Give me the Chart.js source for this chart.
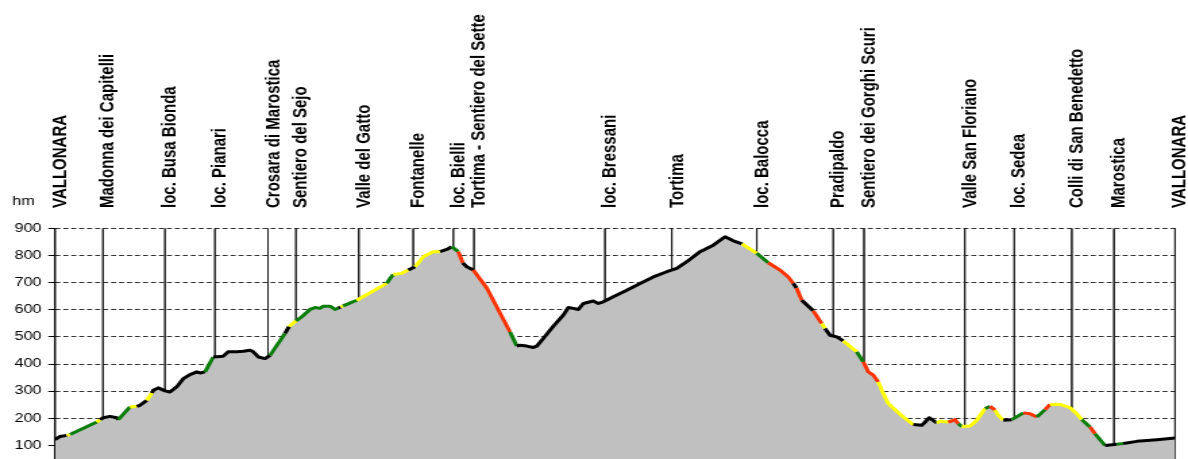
<!DOCTYPE html>
<html>
<head>
<meta charset="utf-8">
<script src="https://cdn.jsdelivr.net/npm/chart.js@4/dist/chart.umd.min.js"></script>
<style>
  html, body { margin: 0; padding: 0; background: #fff; }
</style>
</head>
<body>
<canvas id="chart" width="880" height="459" style="display:block;width:1188px;height:459px"></canvas>
<script>
// distance along the route (km) and elevation (m)
const dist = [0, 0.2, 0.47, 0.6, 1.67, 1.8, 1.93, 2.2, 2.47, 2.53,
  3.0, 3.27, 3.4, 3.67, 3.87, 3.93, 4.13, 4.4, 4.6, 4.87,
  5.13, 5.4, 5.67, 5.8, 6.0, 6.33, 6.73, 6.93, 7.27, 7.53,
  7.8, 7.93, 8.13, 8.4, 8.6, 9.2, 9.36, 9.64, 9.87, 10.2,
  10.4, 10.6, 10.73, 11.0, 11.2, 11.33, 11.42, 11.52, 12.07, 13.27,
  13.4, 13.53, 13.87, 14.13, 14.4, 14.73, 15.13, 15.4, 15.67, 15.87,
  16.13, 16.31, 16.47, 16.73, 17.27, 18.2, 18.47, 18.6, 18.87, 19.13,
  19.27, 19.53, 19.93, 20.33, 20.53, 20.73, 20.93, 21.13, 21.53, 21.73,
  21.93, 22.33, 22.87, 23.4, 23.93, 24.47, 24.87, 25.27, 25.8, 26.33,
  26.8, 27.13, 27.48, 28.07, 28.53, 29.0, 29.33, 29.53, 29.66, 29.87,
  30.33, 30.67, 30.8, 31.0, 31.27, 31.53, 32.07, 32.33, 32.53, 32.73,
  32.93, 33.13, 33.33, 33.93, 34.33, 34.67, 34.97, 35.27, 35.4, 35.73,
  36.0, 36.13, 36.27, 36.6, 36.87, 37.2, 37.4, 37.6, 37.73, 37.93,
  38.27, 38.73, 39.0, 39.27, 39.6, 39.8, 40.2, 40.6, 40.87, 41.07,
  41.4, 41.6, 42.0, 42.47, 42.73, 43.27, 44.07, 44.8];
const elev = [121, 133, 137, 140, 186, 195, 202, 207, 202, 195,
  242, 244, 248, 266, 293, 303, 312, 301, 297, 316,
  346, 361, 371, 367, 371, 426, 429, 445, 445, 447,
  451, 445, 426, 420, 432, 513, 538, 559, 574, 601,
  608, 605, 613, 613, 601, 606, 610, 614, 635, 697,
  715, 730, 734, 746, 758, 795, 814, 814, 822, 832,
  814, 773, 758, 746, 680, 518, 466, 469, 466, 461,
  466, 494, 539, 580, 608, 605, 601, 623, 632, 623,
  629, 648, 672, 697, 721, 740, 752, 777, 814, 838,
  869, 854, 843, 808, 773, 746, 721, 697, 680, 635,
  596, 549, 531, 506, 500, 485, 445, 408, 371, 359,
  334, 291, 254, 205, 177, 174, 202, 183, 189, 186,
  195, 180, 170, 172, 193, 236, 244, 230, 211, 193,
  195, 220, 217, 205, 232, 251, 251, 239, 217, 195,
  168, 143, 100, 104, 107, 115, 121, 127];
// surface of the stretch that starts at each point: k asphalt, g easy, y medium, r hard
const surface = ['k', 'k', 'y', 'g', 'y', 'k', 'k', 'k', 'k', 'g',
  'y', 'k', 'k', 'y', 'k', 'k', 'k', 'k', 'k', 'k',
  'k', 'k', 'k', 'k', 'g', 'k', 'k', 'k', 'k', 'k',
  'k', 'k', 'k', 'k', 'g', 'k', 'y', 'g', 'g', 'g',
  'g', 'g', 'g', 'g', 'g', 'k', 'y', 'g', 'y', 'g',
  'g', 'y', 'y', 'k', 'y', 'y', 'y', 'k', 'k', 'g',
  'r', 'k', 'k', 'r', 'r', 'g', 'k', 'k', 'k', 'k',
  'k', 'k', 'k', 'k', 'k', 'k', 'k', 'k', 'k', 'k',
  'k', 'k', 'k', 'k', 'k', 'k', 'k', 'k', 'k', 'k',
  'k', 'k', 'y', 'g', 'r', 'r', 'r', 'k', 'r', 'k',
  'r', 'y', 'k', 'k', 'k', 'y', 'g', 'r', 'r', 'r',
  'y', 'y', 'y', 'y', 'k', 'k', 'k', 'y', 'y', 'r',
  'r', 'g', 'y', 'y', 'y', 'g', 'r', 'y', 'y', 'k',
  'g', 'r', 'r', 'g', 'r', 'y', 'y', 'y', 'y', 'g',
  'r', 'g', 'k', 'g', 'k', 'k', 'k', 'k'];

const places = ["VALLONARA", "Madonna dei Capitelli", "loc. Busa Bionda", "loc. Pianari",
  "Crosara di Marostica", "Sentiero del Sejo", "Valle del Gatto", "Fontanelle",
  "loc. Bielli", "Tortima - Sentiero del Sette", "loc. Bressani", "Tortima",
  "loc. Balocca", "Pradipaldo", "Sentiero dei Gorghi Scuri", "Valle San Floriano",
  "loc. Sedea", "Colli di San Benedetto", "Marostica", "VALLONARA"];
const placeKm = [0, 1.92, 4.4, 6.4, 8.52, 9.64, 12.15, 14.33, 15.93, 16.76,
  22.0, 24.67, 28.07, 31.13, 32.36, 36.39, 38.37, 40.67, 42.36, 44.8];

const yTicks = [100, 200, 300, 400, 500, 600, 700, 800, 900];

const surfaceColors = { k: "#000000", g: "#0b7d0b", y: "#ffff00", r: "#ff3300" };

function elevAt(d) {
    for (let i = 1; i < dist.length; i++) {
        if (d <= dist[i]) {
            const t = (d - dist[i - 1]) / (dist[i] - dist[i - 1]);
            return elev[i - 1] + t * (elev[i] - elev[i - 1]);
        }
    }
    return elev[elev.length - 1];
}

const profile = dist.map((d, i) => ({ x: d, y: elev[i] }));
const markers = [];
placeKm.forEach(d => {
    markers.push({ x: d, y: 900 }, { x: d, y: elevAt(d) }, { x: d, y: null });
});

const placeLabels = {
    id: "placeLabels",
    afterDraw(chart) {
        const ctx = chart.ctx;
        const xScale = chart.scales.x;
        ctx.save();
        ctx.fillStyle = "#000";
        ctx.font = "bold 15px 'Liberation Sans', Arial, sans-serif";
        ctx.textAlign = "left";
        ctx.textBaseline = "alphabetic";
        places.forEach((name, i) => {
            const x = xScale.getPixelForValue(placeKm[i]);
            ctx.save();
            ctx.translate(x + 8, 208);
            ctx.rotate(-Math.PI / 2);
            ctx.fillText(name, 0, 0);
            ctx.restore();
        });
        ctx.font = "12px 'Liberation Sans', Arial, sans-serif";
        ctx.fillText("hm", 9, 205);
        ctx.restore();
    }
};

function noPad(scale) {
    scale.paddingTop = 0;
    scale.paddingBottom = 0;
}

const ctx = document.getElementById("chart").getContext("2d");
const chart = new Chart(ctx, {
    type: "line",
    data: {
        datasets: [{
            data: profile,
            order: 0,
            borderWidth: 3,
            borderColor: "#000",
            borderJoinStyle: "round",
            fill: false,
            pointRadius: 0,
            tension: 0,
            segment: {
                borderColor: c => surfaceColors[surface[c.p0DataIndex]]
            }
        }, {
            data: profile,
            order: 2,
            borderWidth: 0,
            backgroundColor: "#c0c0c0",
            fill: "start",
            pointRadius: 0,
            tension: 0
        }, {
            data: markers,
            order: 1,
            borderWidth: 0.8,
            borderColor: "#1a1a1a",
            pointRadius: 0,
            fill: false,
            spanGaps: false
        }]
    },
    options: {
        responsive: false,
        devicePixelRatio: 1,
        animation: false,
        layout: { padding: { top: 228.3, left: 0, right: 9.6, bottom: 0 } },
        plugins: { legend: { display: false }, tooltip: { enabled: false } },
        scales: {
            x: {
                type: "linear",
                min: 0,
                max: 44.8,
                display: false
            },
            y: {
                min: 50,
                max: 900,
                afterBuildTicks: scale => { scale.ticks = yTicks.map(v => ({ value: v })); },
                afterFit: scale => { scale.width = 40.74; noPad(scale); },
                ticks: {
                    color: "#000",
                    padding: 5,
                    font: { family: "'Liberation Sans', Arial, sans-serif", size: 12 }
                },
                grid: {
                    color: "#333",
                    lineWidth: 1,
                    tickLength: 5,
                    tickColor: "#000",
                    tickBorderDash: []
                },
                border: { display: true, color: "#000", width: 1, dash: [3.7, 2.2] }
            },
            yRight: {
                position: "right",
                min: 50,
                max: 900,
                afterFit: scale => { scale.width = 0; noPad(scale); },
                ticks: { display: false },
                grid: { drawOnChartArea: false, drawTicks: false },
                border: { display: true, color: "#444", width: 1 }
            }
        }
    },
    plugins: [placeLabels]
});
</script>
</body>
</html>
